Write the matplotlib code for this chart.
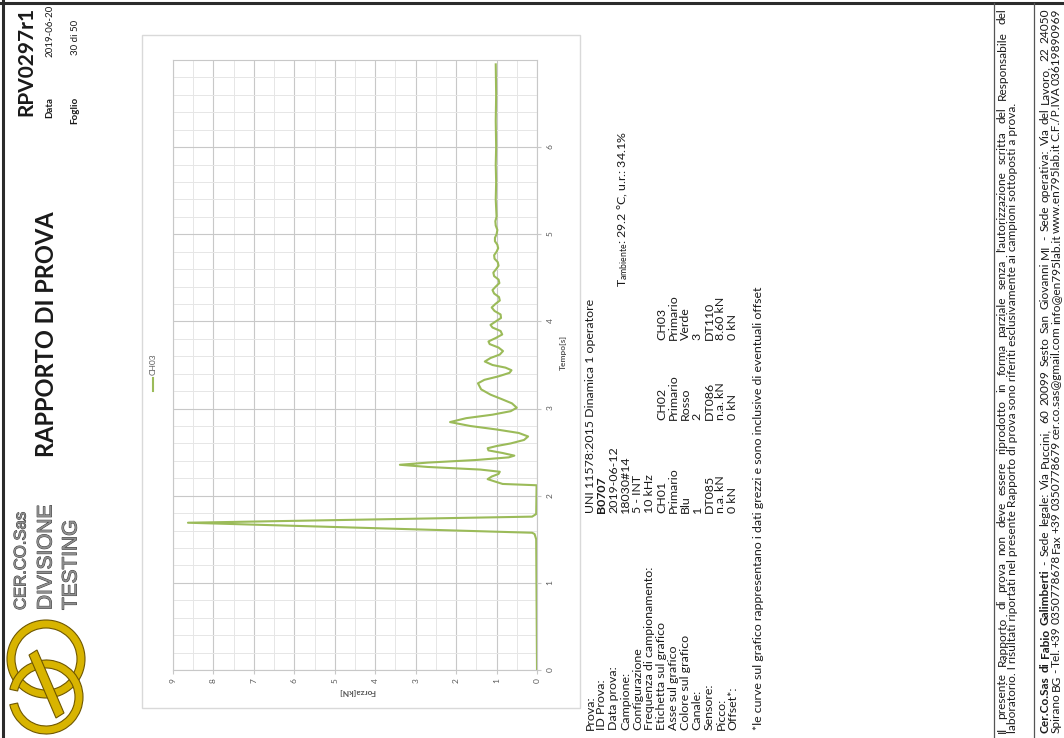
import matplotlib.pyplot as plt
import matplotlib.patheffects as pe
from matplotlib.patches import Rectangle, Wedge, Polygon
from matplotlib.ticker import MultipleLocator

plt.rcParams['font.family'] = ['Lato', 'DejaVu Sans']
plt.rcParams['mathtext.fontset'] = 'custom'
plt.rcParams['mathtext.rm'] = 'Lato'
plt.rcParams['mathtext.it'] = 'Lato'

W, H = 1064, 738

# CH03 curve (time [s], force [kN])
time_s = [0.00, 1.50, 1.56, 1.575, 1.69, 1.76, 1.79, 2.12, 2.135, 2.16, 2.19, 2.22,
          2.25, 2.275, 2.30, 2.33, 2.355, 2.38, 2.41, 2.44, 2.46, 2.49, 2.52, 2.545,
          2.57, 2.60, 2.64, 2.68, 2.72, 2.76, 2.80, 2.845, 2.89, 2.93, 2.97, 3.01,
          3.06, 3.11, 3.16, 3.22, 3.29, 3.33, 3.37, 3.41, 3.44, 3.47, 3.50, 3.54,
          3.58, 3.62, 3.66, 3.70, 3.74, 3.77, 3.81, 3.85, 3.89, 3.93, 3.96, 4.00,
          4.04, 4.08, 4.12, 4.16, 4.20, 4.24, 4.28, 4.32, 4.36, 4.40, 4.44, 4.48,
          4.52, 4.56, 4.60, 4.64, 4.68, 4.72, 4.76, 4.80, 4.84, 4.88, 4.92, 4.96,
          5.00, 5.05, 5.10, 5.15, 5.20, 5.30, 5.40, 5.60, 5.80, 6.00, 6.30, 6.60, 6.95]
force_kn = [0.00, 0.02, 0.06, 0.12, 8.63, 0.12, 0.02, 0.01, 0.85, 1.02, 1.22, 1.12,
            0.95, 0.92, 1.40, 2.70, 3.39, 2.70, 1.50, 0.70, 0.56, 0.85, 1.20, 1.22,
            1.00, 0.65, 0.32, 0.22, 0.45, 1.00, 1.65, 2.15, 1.75, 1.10, 0.65, 0.50,
            0.62, 0.88, 1.15, 1.38, 1.46, 1.30, 0.95, 0.68, 0.63, 0.78, 1.10, 1.29,
            1.15, 0.92, 0.84, 0.95, 1.17, 1.20, 1.02, 0.86, 0.90, 1.10, 1.15, 1.02,
            0.89, 0.90, 1.05, 1.12, 1.03, 0.92, 0.94, 1.06, 1.10, 1.02, 0.93, 0.95,
            1.06, 1.08, 1.01, 0.95, 0.97, 1.05, 1.06, 1.00, 0.96, 0.98, 1.04, 1.04,
            1.00, 0.98, 1.02, 1.03, 1.00, 1.01, 1.02, 1.01, 1.02, 1.01, 1.02, 1.01, 1.02]

force_ticks = [0, 1, 2, 3, 4, 5, 6, 7, 8, 9]
time_ticks = [0, 1, 2, 3, 4, 5, 6]
series_label = 'CH03'
series_color = '#9bbb59'

report_code = 'RPV0297r1'
report_date = '2019-06-20'
sheet_no = '30 di 50'
title = 'RAPPORTO DI PROVA'
logo_lines = ['CER.CO.Sas', 'DIVISIONE', 'TESTING']

info_labels = ['Prova:', 'ID Prova:', 'Data prova:', 'Campione:', 'Configurazione',
               'Frequenza di campionamento:', 'Etichetta sul grafico', 'Asse sul grafico',
               'Colore sul grafico', 'Canale:', 'Sensore:', 'Picco:', 'Offset*:']
info_values = ['UNI 11578:2015 Dinamica 1 operatore', 'B0707', '2019-06-12',
               '18030#14', '5 - INT', '10 kHz']
ch01 = ['CH01', 'Primario', 'Blu', '1', 'DT085', 'n.a. kN', '0 kN']
ch02 = ['CH02', 'Primario', 'Rosso', '2', 'DT086', 'n.a. kN', '0 kN']
ch03 = ['CH03', 'Primario', 'Verde', '3', 'DT110', '8.60 kN', '0 kN']
ambient = r'T$_{\mathrm{ambiente}}$: 29.2 °C, u.r.: 34.1%'
note = '*le curve sul grafico rappresentano i dati grezzi e sono inclusive di eventuali offset'
footer = ["Il presente Rapporto di prova non deve essere riprodotto in forma parziale senza "
          "l'autorizzazione scritta del Responsabile del",
          "laboratorio. I risultati riportati nel presente Rapporto di prova sono riferiti "
          "esclusivamente ai campioni sottoposti a prova.",
          "Cer.Co.Sas di Fabio Galimberti - Sede legale: Via Puccini, 60 20099 Sesto San "
          "Giovanni MI - Sede operativa: Via del Lavoro, 22 24050",
          "Spirano BG - Tel. +39 0350778678 Fax +39 0350778679 cer.co.sas@gmail.com "
          "info@en795lab.it www.en795lab.it C.F./P.IVA 03619890969"]

fig = plt.figure(figsize=(W / 100, H / 100), dpi=100)

# page layer in pixel units (y down)
page = fig.add_axes([0, 0, 1, 1])
page.set_xlim(0, W)
page.set_ylim(H, 0)
page.axis('off')


def vtext(x, y, s, size=8, bold=False, color='#1a1a1a', **kw):
    return page.text(x, y, s, rotation=90, rotation_mode='anchor', ha='left',
                     va='center', fontsize=size, color=color,
                     fontweight='bold' if bold else 'normal', **kw)


def vjustify(x, y0, y1, s, size=8, n_bold=0):
    words = s.split()
    items = [vtext(x, y0, w, size=size, bold=i < n_bold) for i, w in enumerate(words)]
    r = fig.canvas.get_renderer()
    lens = [t.get_window_extent(r).height for t in items]
    gap = (y0 - y1 - sum(lens)) / (len(words) - 1)
    y = y0
    for t, l in zip(items, lens):
        t.set_y(y)
        y -= l + gap


# page borders
page.plot([0, W], [3, 3], color='#2b2b2b', lw=2.2)
page.plot([3, 3], [0, H], color='#2b2b2b', lw=2.2)

# header
vtext(26, 116, report_code, size=15, bold=True)
vtext(50, 118, 'Data', size=7, bold=True)
vtext(50, 57, report_date, size=7)
vtext(75, 124, 'Foglio', size=7, bold=True)
vtext(75, 55, sheet_no, size=7)
vtext(47, 457, title, size=17, bold=True)

# logo
gold, dark_gold = '#d8b400', '#6f5700'
page.add_patch(Wedge((46, 659), 39, 0, 360, width=8, fc=gold, ec=dark_gold, lw=0.8))
page.add_patch(Wedge((46, 697), 37, 192, 168, width=8, fc=gold, ec=dark_gold, lw=0.8))
page.add_patch(Polygon([(29, 655), (37, 650), (64, 713), (56, 718)],
                       closed=True, fc=gold, ec=dark_gold, lw=0.8))
for i, s in enumerate(logo_lines):
    page.text(21 + i * 25, 610, s, rotation=90, rotation_mode='anchor', ha='left',
              va='center', fontsize=15 if i else 12, color='#8e8e8e',
              family=['Liberation Sans Narrow', 'Liberation Sans'],
              path_effects=[pe.withStroke(linewidth=0.7, foreground='#3a3a3a')])

# chart frame
page.add_patch(Rectangle((142, 35), 438, 673, fill=False, ec='#d9d9d9', lw=1))

ax = fig.add_axes([173 / W, 1 - 670 / H, (537 - 173) / W, (670 - 60) / H])
ax.plot(force_kn, time_s, color=series_color, lw=1.5)
ax.set_xlim(9, 0)
ax.set_ylim(0, 7)
ax.set_xticks(force_ticks)
ax.set_yticks(time_ticks)
ax.xaxis.set_minor_locator(MultipleLocator(0.5))
ax.yaxis.set_minor_locator(MultipleLocator(0.2))
ax.grid(which='major', color='#c8c8c8', lw=0.8)
ax.grid(which='minor', color='#e6e6e6', lw=0.7)
ax.set_axisbelow(True)
ax.yaxis.tick_right()
for sp in ax.spines.values():
    sp.set_color('#c8c8c8')
    sp.set_linewidth(0.8)
ax.tick_params(which='both', length=3, color='#c8c8c8', labelsize=6, labelcolor='#595959')
ax.tick_params(which='minor', length=0)
ax.tick_params(axis='x', labelrotation=90, pad=3)
ax.tick_params(axis='y', labelrotation=90, pad=4)

page.text(357, 692, 'Forza[kN]', rotation=180, ha='center', va='center',
          fontsize=6, fontweight='bold', color='#595959')
page.text(563, 352, 'Tempo[s]', rotation=90, ha='center', va='center',
          fontsize=6, fontweight='bold', color='#595959')
page.plot([153, 153], [391, 378], color=series_color, lw=1.5)
vtext(153, 375, series_label, size=6, color='#595959')

# test info table
row_x = [590 + i * 11.9 for i in range(len(info_labels))]
for x, s in zip(row_x, info_labels):
    vtext(x, 730, s, size=8.9)
for i, s in enumerate(info_values):
    vtext(row_x[i], 513, s, size=8.9, bold=(i == 1))
for col, y in zip([ch01, ch02, ch03], [513, 420, 340]):
    for i, s in enumerate(col):
        vtext(row_x[6 + i], y, s, size=8.9)
vtext(623, 287, ambient, size=8.9)
vtext(758, 730, note, size=8.9)

# footer
page.plot([994, 994], [3, H], color='#555555', lw=0.9)
page.plot([1034, 1034], [3, H], color='#555555', lw=0.9)
vjustify(1002, 733, 8, footer[0], size=8.6)
vtext(1013, 733, footer[1], size=8.6)
vjustify(1045, 733, 8, footer[2], size=8.6, n_bold=4)
vjustify(1056, 733, 8, footer[3], size=8.6)

fig.savefig('out.png', dpi=100)
